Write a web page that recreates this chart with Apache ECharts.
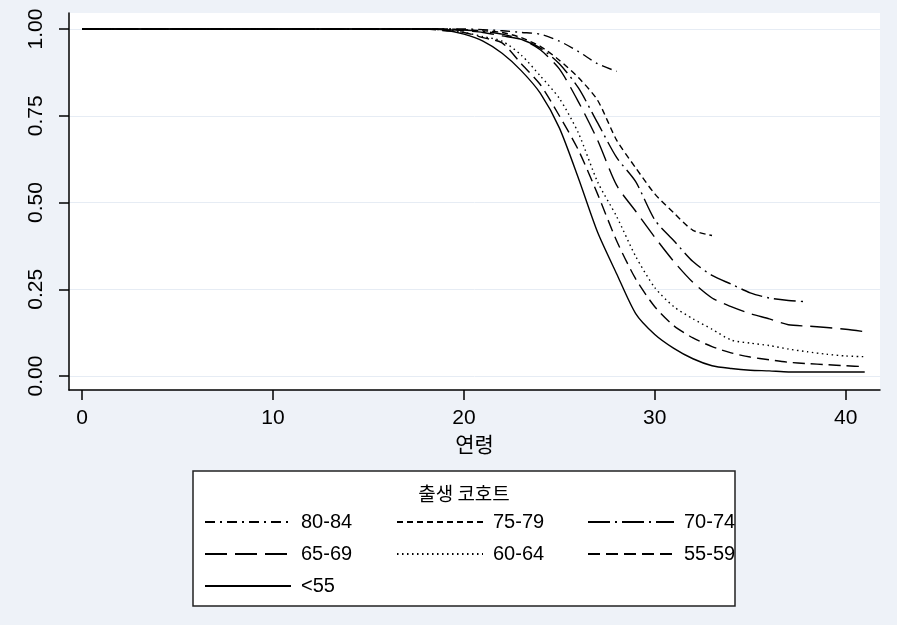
<!DOCTYPE html>
<html><head><meta charset="utf-8">
<script src="https://cdn.jsdelivr.net/npm/echarts@6/dist/echarts.min.js"></script>
<style>html,body{margin:0;padding:0;background:#eef2f8}#c{width:897px;height:625px}</style>
</head><body><div id="c"></div>
<script>
// ---- data ----
const xTicks = [0, 10, 20, 30, 40];
const yTicks = [0, 0.25, 0.5, 0.75, 1];
const axisXName = '연령';
const legendTitle = '출생 코호트';
const cohortNames = ['80-84', '75-79', '70-74', '65-69', '60-64', '55-59', '<55'];
const ages = [0, 18, 19, 20, 21, 22, 23, 24, 25, 26, 27, 28, 29, 30, 31, 32, 33, 34, 35, 36, 37, 38, 39, 40, 41];
const s80_84 = [1, 1, 1, 1, 0.998, 0.995, 0.99, 0.985, 0.965, 0.935, 0.9, 0.878];
const s75_79 = [1, 1, 1, 0.998, 0.995, 0.99, 0.975, 0.95, 0.91, 0.86, 0.795, 0.68, 0.6, 0.525, 0.47, 0.42, 0.405];
const s70_74 = [1, 1, 0.999, 0.997, 0.993, 0.985, 0.97, 0.945, 0.9, 0.83, 0.73, 0.63, 0.56, 0.45, 0.39, 0.33, 0.29, 0.265, 0.24, 0.225, 0.218, 0.214];
const s65_69 = [1, 1, 0.998, 0.995, 0.99, 0.98, 0.97, 0.94, 0.885, 0.79, 0.68, 0.55, 0.475, 0.4, 0.33, 0.27, 0.225, 0.2, 0.18, 0.165, 0.148, 0.144, 0.14, 0.135, 0.128];
const s60_64 = [1, 1, 0.997, 0.99, 0.978, 0.965, 0.925, 0.865, 0.8, 0.7, 0.56, 0.46, 0.345, 0.255, 0.2, 0.165, 0.135, 0.104, 0.095, 0.088, 0.078, 0.07, 0.063, 0.058, 0.056];
const s55_59 = [1, 1, 0.995, 0.99, 0.975, 0.96, 0.9, 0.84, 0.75, 0.651, 0.525, 0.39, 0.28, 0.2, 0.145, 0.11, 0.085, 0.067, 0.055, 0.047, 0.04, 0.036, 0.033, 0.03, 0.027];
const sLt55 = [1, 1, 0.997, 0.985, 0.965, 0.93, 0.88, 0.815, 0.715, 0.57, 0.415, 0.295, 0.18, 0.12, 0.08, 0.05, 0.03, 0.022, 0.017, 0.015, 0.012, 0.012, 0.012, 0.012, 0.012];
const seriesValues = [s80_84, s75_79, s70_74, s65_69, s60_64, s55_59, sLt55];

// ---- styles ----
const dashes = [[10, 5, 2, 5], [6, 4], [22, 5, 2, 5], [22, 8], [1.5, 3.5], [12, 6], 'solid'];
const FONT = 'Liberation Sans, Arial, sans-serif';
const KFONT = 'Noto Sans CJK KR, sans-serif';

const series = cohortNames.map((n, i) => ({
  name: n, type: 'line', symbol: 'none', smooth: 0.25, silent: true,
  lineStyle: { color: '#000', width: 1.4, type: dashes[i] },
  itemStyle: { color: '#000' },
  data: seriesValues[i].map((v, k) => [ages[k], v])
}));

// legend layout: 3 columns x 3 rows
const colX = [204, 396, 587];
const rowY = [523, 555, 587];
const legends = cohortNames.map((n, i) => ({
  data: [n], selectedMode: false, orient: 'horizontal',
  left: colX[i % 3], top: rowY[Math.floor(i / 3)] - 11,
  itemWidth: 86, itemHeight: 14, padding: 0,
  itemStyle: { opacity: 0 },
  textStyle: { fontFamily: FONT, fontSize: 20, color: '#000', padding: [0, 0, 0, 5] }
}));

const chart = echarts.init(document.getElementById('c'), null, { renderer: 'canvas' });
chart.setOption({
  backgroundColor: '#eef2f8',
  animation: false,
  grid: { left: 69, right: 17, top: 13, bottom: 235, show: true, backgroundColor: '#fff', borderWidth: 0 },
  xAxis: {
    type: 'value', min: -0.69, max: 41.8,
    name: axisXName, nameLocation: 'middle', nameGap: 40,
    nameTextStyle: { fontFamily: KFONT, fontSize: 21, color: '#000' },
    axisLine: { onZero: false, lineStyle: { color: '#000', width: 1.5 } },
    axisTick: { show: true, length: 10, customValues: xTicks, lineStyle: { color: '#000', width: 1.5 } },
    axisLabel: { customValues: xTicks, margin: 18, fontFamily: FONT, fontSize: 21, color: '#000' },
    splitLine: { show: false }
  },
  yAxis: {
    type: 'value', min: -0.04, max: 1.046,
    axisLine: { show: true, onZero: false, lineStyle: { color: '#000', width: 1.5 } },
    axisTick: { show: true, length: 10, customValues: yTicks, lineStyle: { color: '#000', width: 1.5 } },
    axisLabel: { customValues: yTicks, rotate: 90, margin: 22, fontFamily: FONT, fontSize: 21, color: '#000',
      formatter: v => v.toFixed(2) },
    splitLine: { show: true, lineStyle: { color: '#e6ecf4', width: 1 } }
  },
  legend: legends,
  graphic: [
    { type: 'rect', z: -1, shape: { x: 193, y: 471, width: 542, height: 135 },
      style: { fill: '#fff', stroke: '#222', lineWidth: 1.5 } },
    { type: 'text', z: 1, x: 464, y: 494,
      style: { text: legendTitle, fontFamily: KFONT, fontSize: 19, fill: '#000', align: 'center', verticalAlign: 'middle' } }
  ],
  series: series
});
</script></body></html>
